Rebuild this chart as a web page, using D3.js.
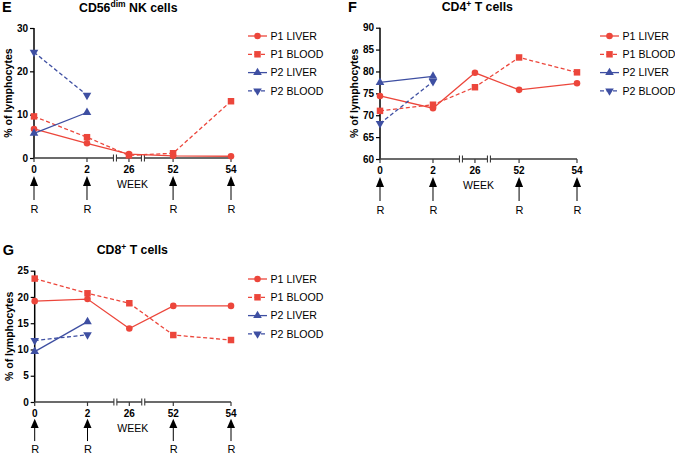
<!DOCTYPE html>
<html><head><meta charset="utf-8">
<script src="https://cdn.jsdelivr.net/npm/d3@7"></script>
<style>body{margin:0;background:#fff}text{font-family:"Liberation Sans",Arial,sans-serif}</style>
</head><body><svg id="c" width="675" height="455"></svg>
<script>
// ---- data ----
const weeks = [0, 2, 26, 52, 54];
const weekLabels = ["0", "2", "26", "52", "54"];
const treatmentWeeks = [0, 2, 52, 54];
const seriesNames = ["P1 LIVER", "P1 BLOOD", "P2 LIVER", "P2 BLOOD"];

const nkP1Liver = [6.7, 3.4, 0.9, 0.5, 0.4];
const nkP1Blood = [9.6, 4.8, 0.6, 1.1, 13.1];
const nkP2Liver = [5.7, 10.5];
const nkP2Blood = [24.4, 14.5];
const nkTicks = [0, 10, 20, 30];

const cd4P1Liver = [74.4, 71.6, 79.7, 75.8, 77.3];
const cd4P1Blood = [71.0, 72.4, 76.4, 83.2, 79.8];
const cd4P2Liver = [77.5, 78.9];
const cd4P2Blood = [68.1, 77.7];
const cd4Ticks = [60, 65, 70, 75, 80, 85, 90];

const cd8P1Liver = [19.2, 19.6, 14.0, 18.3, 18.3];
const cd8P1Blood = [23.5, 20.7, 18.8, 12.75, 11.8];
const cd8P2Liver = [9.6, 15.3];
const cd8P2Blood = [11.7, 12.8];
const cd8Ticks = [0, 5, 10, 15, 20, 25];

// ---- styles ----
const RED = "#ec463b", BLUE = "#3e4fa2";
const styles = [
  {color: RED, dash: null, sym: d3.symbolCircle, size: 34, rot: 0},
  {color: RED, dash: "4,2.5", sym: d3.symbolSquare, size: 42, rot: 0},
  {color: BLUE, dash: null, sym: d3.symbolTriangle, size: 32, rot: 0},
  {color: BLUE, dash: "4,2.5", sym: d3.symbolTriangle, size: 32, rot: 180}
];
const weekFrac = [0, 0.269, 0.482, 0.706, 1];
const breakFrac = [0.411, 0.553];

const svg = d3.select("#c");

function panel(p) {
  const g = svg.append("g");
  const x = d3.scaleLinear().domain(weeks).range(weekFrac.map(f => p.left + f * p.width));
  const y = d3.scaleLinear().domain([p.ticks[0], p.ticks[p.ticks.length - 1]]).range([p.bottom, p.top]);
  const k = p.compact ? 0.93 : 1;

  // letter + title
  g.append("text").attr("x", p.left - 32).attr("y", p.top - 16).attr("font-size", 14.5).attr("font-weight", "bold").text(p.letter);
  const t = g.append("text").attr("x", p.titleX).attr("y", p.top - 16.3).attr("font-size", 12.3).attr("font-weight", "bold");
  t.append("tspan").text(p.title[0]);
  t.append("tspan").attr("font-size", 8.5).attr("dy", -4.5).text(p.title[1]);
  t.append("tspan").attr("dy", 4.5).text(p.title[2]);

  // y axis
  const ya = g.append("g").attr("transform", `translate(${p.left},0)`)
    .call(d3.axisLeft(y).tickValues(p.ticks).tickSize(4).tickPadding(2).tickFormat(d3.format("d")));
  ya.select(".domain").attr("stroke", "#000").attr("stroke-width", 1.5).attr("d", `M0,${p.bottom}V${p.top}`);
  ya.selectAll(".tick line").attr("stroke", "#000").attr("stroke-width", 1.2);
  ya.selectAll(".tick text").attr("font-size", 10).attr("font-weight", "bold").attr("fill", "#000")
    .style("font-family", '"Liberation Sans",Arial,sans-serif');

  g.append("text").attr("transform", `translate(${p.left - 22},${(p.top + p.bottom) / 2}) rotate(-90)`)
    .attr("text-anchor", "middle").attr("font-size", 10.5).attr("font-weight", "bold").text("% of lymphocytes");

  // x axis (broken)
  const b1 = p.left + breakFrac[0] * p.width, b2 = p.left + breakFrac[1] * p.width;
  const xEnd = x(54);
  const ax = g.append("g").attr("stroke", "#3a3a3a").attr("stroke-width", 1.5);
  [[p.left, b1 - 1.5], [b1 + 1.5, b2 - 1.5], [b2 + 1.5, xEnd]].forEach(s =>
    ax.append("line").attr("x1", s[0]).attr("x2", s[1]).attr("y1", p.bottom).attr("y2", p.bottom));
  [b1, b2].forEach(b => [-1.5, 1.5].forEach(o =>
    ax.append("line").attr("x1", b + o).attr("x2", b + o).attr("y1", p.bottom - 3.5).attr("y2", p.bottom + 3.5).attr("stroke-width", 1.1)));
  weeks.forEach((w, i) => {
    ax.append("line").attr("x1", x(w)).attr("x2", x(w)).attr("y1", p.bottom).attr("y2", p.bottom + 4).attr("stroke-width", 1.2);
    g.append("text").attr("x", x(w)).attr("y", p.bottom + 14.5).attr("text-anchor", "middle")
      .attr("font-size", 10).attr("font-weight", "bold").text(weekLabels[i]);
  });
  g.append("text").attr("x", x(26) + 3.5).attr("y", p.bottom + 30).attr("text-anchor", "middle").attr("font-size", 10.5).text("WEEK");

  // treatment arrows
  treatmentWeeks.forEach(w => {
    const cx = x(w);
    const h0 = p.bottom + 18 * k, h1 = p.bottom + 28 * k;
    g.append("path").attr("d", `M${cx},${h0}L${cx - 4},${h1}L${cx + 4},${h1}Z`).attr("fill", "#000");
    g.append("line").attr("x1", cx).attr("x2", cx).attr("y1", h1 - 1).attr("y2", p.bottom + 42 * k).attr("stroke", "#000").attr("stroke-width", 1);
    g.append("text").attr("x", cx + 0.5).attr("y", p.compact ? p.bottom + 51 : p.bottom + 55).attr("text-anchor", "middle").attr("font-size", 11).text("R");
  });

  // series
  p.series.forEach((vals, si) => {
    const st = styles[si];
    const pts = vals.map((v, i) => [weeks[i], v]);
    g.append("path").datum(pts).attr("fill", "none").attr("stroke", st.color).attr("stroke-width", 1.3)
      .attr("stroke-dasharray", st.dash)
      .attr("d", d3.line().x(d => x(d[0])).y(d => y(d[1])));
    g.selectAll(null).data(pts).join("path")
      .attr("transform", d => `translate(${x(d[0])},${y(d[1])}) rotate(${st.rot})`)
      .attr("d", d3.symbol().type(st.sym).size(st.size)).attr("fill", st.color);
  });

  // legend
  seriesNames.forEach((name, si) => {
    const st = styles[si];
    const ly = p.legendTop + si * 18.3;
    const lx = p.legendX;
    g.append("line").attr("x1", lx).attr("x2", lx + 19).attr("y1", ly).attr("y2", ly)
      .attr("stroke", st.color).attr("stroke-width", 1.3).attr("stroke-dasharray", st.dash);
    g.append("path").attr("transform", `translate(${lx + 9.5},${ly}) rotate(${st.rot})`)
      .attr("d", d3.symbol().type(st.sym).size(st.size)).attr("fill", st.color);
    g.append("text").attr("x", lx + 22.5).attr("y", ly + 3.8).attr("font-size", 10.6).text(name);
  });
}

panel({letter: "E", title: ["CD56", "dim", " NK cells"], titleX: 79, left: 34, width: 197, top: 28, bottom: 158,
  ticks: nkTicks, series: [nkP1Liver, nkP1Blood, nkP2Liver, nkP2Blood], legendX: 248, legendTop: 36});
panel({letter: "F", title: ["CD4", "+", " T cells"], titleX: 441.7, left: 380, width: 197, top: 27.7, bottom: 159,
  ticks: cd4Ticks, series: [cd4P1Liver, cd4P1Blood, cd4P2Liver, cd4P2Blood], legendX: 600, legendTop: 36});
panel({letter: "G", title: ["CD8", "+", " T cells"], titleX: 96.7, left: 34.7, width: 196.3, top: 270.7, bottom: 402,
  ticks: cd8Ticks, series: [cd8P1Liver, cd8P1Blood, cd8P2Liver, cd8P2Blood], legendX: 248, legendTop: 279, compact: true});
</script></body></html>
